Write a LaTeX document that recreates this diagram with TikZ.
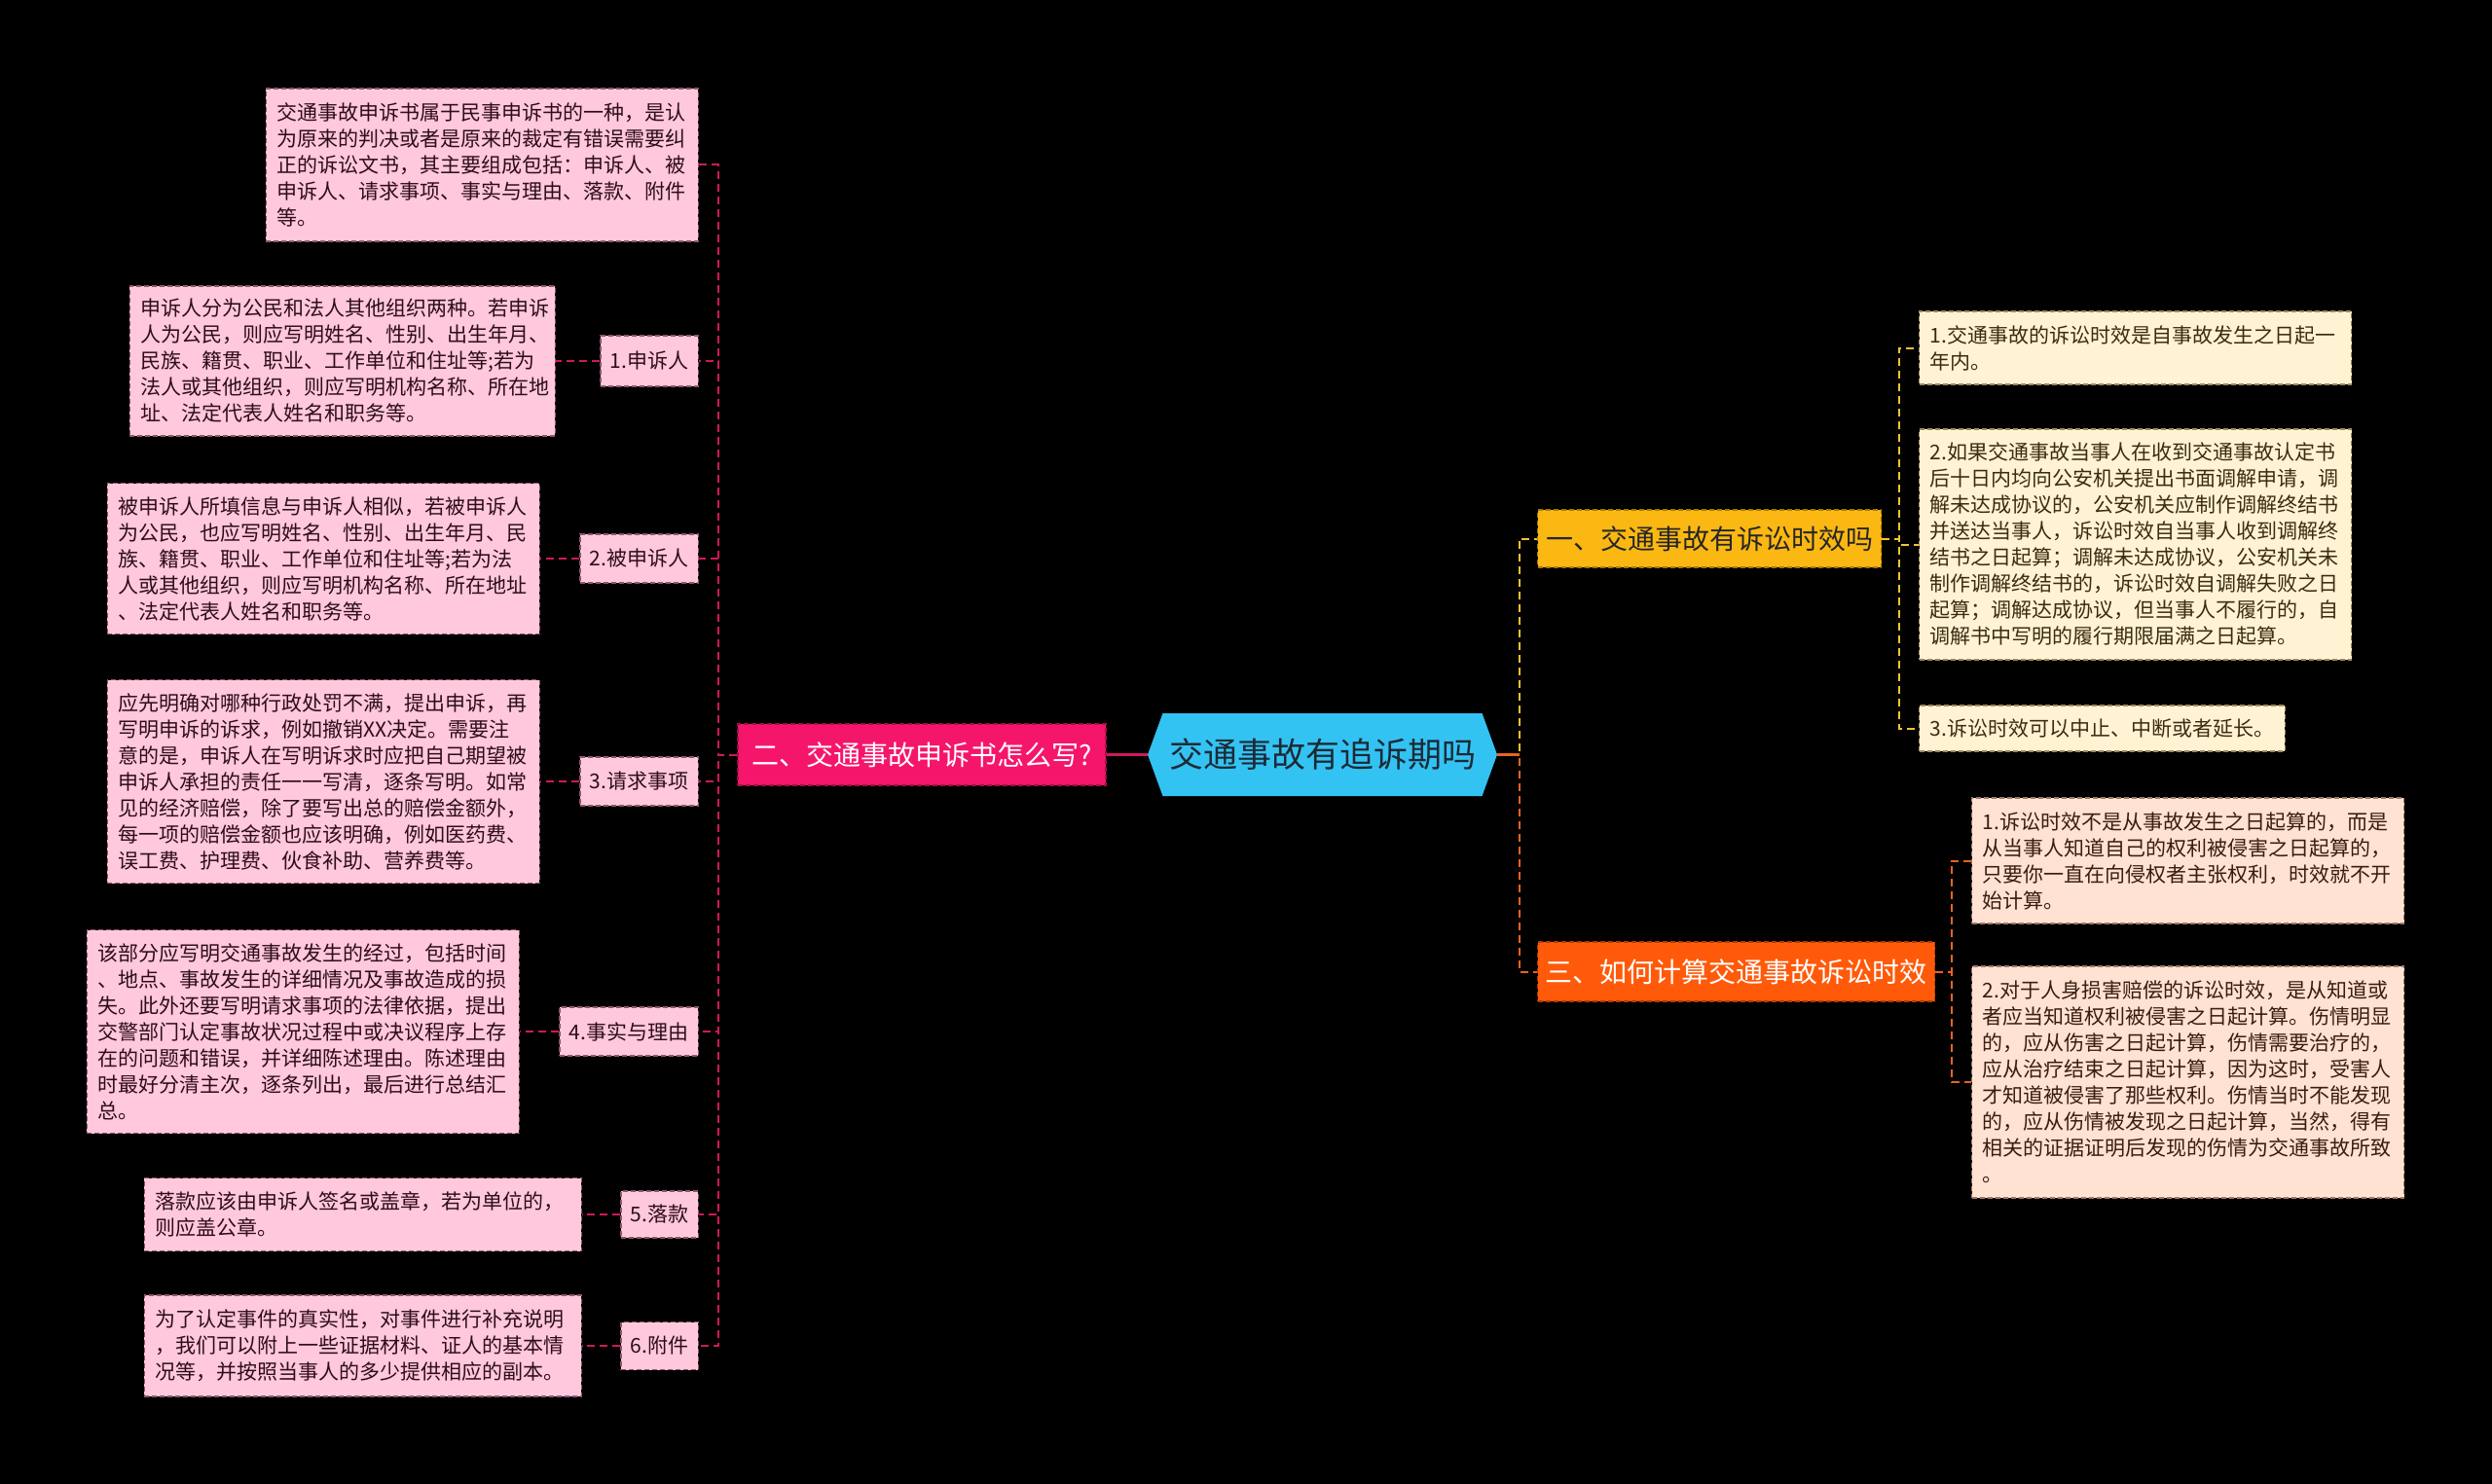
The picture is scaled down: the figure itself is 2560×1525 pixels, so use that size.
\documentclass[tikz,border=0pt]{standalone}
\usepackage{fontspec}
\setmainfont{Noto Sans CJK SC}
\usetikzlibrary{shapes.symbols}
\definecolor{pinkbox}{HTML}{FFC8DC}
\definecolor{pinkedge}{HTML}{8E5670}
\definecolor{pinktext}{HTML}{2E0C1C}
\definecolor{creambox}{HTML}{FFF3D4}
\definecolor{creamedge}{HTML}{A08A5A}
\definecolor{creamtext}{HTML}{3A2C10}
\definecolor{peachbox}{HTML}{FFE2D2}
\definecolor{peachedge}{HTML}{A07A66}
\definecolor{peachtext}{HTML}{3A1C10}
\definecolor{rootc}{HTML}{33C3F3}
\definecolor{roottext}{HTML}{1C2A36}
\definecolor{magc}{HTML}{F5166B}
\definecolor{magedge}{HTML}{A80E48}
\definecolor{ambc}{HTML}{FBB812}
\definecolor{ambedge}{HTML}{A87A08}
\definecolor{orc}{HTML}{FF5A0A}
\definecolor{oredge}{HTML}{B03C04}
\definecolor{lineL}{HTML}{D0185C}
\definecolor{lineY}{HTML}{F2C230}
\definecolor{lineO}{HTML}{E8641E}
\begin{document}
\begin{tikzpicture}[x=1pt,y=-1pt,
  boxbase/.style={dash pattern=on 5pt off 3pt, line width=1.4pt, inner xsep=11pt, inner ysep=0pt,
    font=\fontsize{21pt}{27pt}\selectfont},
  leafL/.style={boxbase, fill=pinkbox, draw=pinkedge, text=pinktext, align=left, anchor=east},
  labelL/.style={boxbase, fill=pinkbox, draw=pinkedge, text=pinktext, anchor=east, inner xsep=10pt, minimum height=#1},
  leafY/.style={boxbase, fill=creambox, draw=creamedge, text=creamtext, align=left, anchor=west},
  leafO/.style={boxbase, fill=peachbox, draw=peachedge, text=peachtext, align=left, anchor=west},
  branch/.style={dash pattern=on 5pt off 3pt, line width=1.4pt, inner sep=0pt,
    font=\fontsize{28pt}{34pt}\selectfont},
  conn/.style={line width=2pt, dash pattern=on 8pt off 5pt}]
\fill[black] (0,0) rectangle (2560,1525);
\useasboundingbox (0,0) rectangle (2560,1525);

% root
\node[signal, signal to=east and west, signal pointer angle=140, fill=rootc, text=roottext,
  minimum width=359pt, minimum height=85pt, inner sep=0pt,
  font=\fontsize{35pt}{40pt}\selectfont] (root) at (1358.5,775.5) {交通事故有追诉期吗};

% branches
\node[branch, fill=magc, draw=magedge, text=white, minimum width=378pt, minimum height=63pt] (b2) at (947,775.5) {二、交通事故申诉书怎么写?};
\node[branch, fill=ambc, draw=ambedge, text=black!85, minimum width=353pt, minimum height=59pt, anchor=west] (b1) at (1579,553.5) {一、交通事故有诉讼时效吗};
\node[branch, fill=orc, draw=oredge, text=white, minimum width=408pt, minimum height=61pt, anchor=west] (b3) at (1579,998.5) {三、如何计算交通事故诉讼时效};

% left leaves
\node[leafL, text width=422pt, minimum height=157pt] (intro) at (718,169.5) {交通事故申诉书属于民事申诉书的一种，是认\\为原来的判决或者是原来的裁定有错误需要纠\\正的诉讼文书，其主要组成包括：申诉人、被\\申诉人、请求事项、事实与理由、落款、附件\\等。};

\node[labelL=52pt] (l1) at (718,371) {1.申诉人};
\node[leafL, text width=415pt, minimum height=154pt] (d1) at (571,371) {申诉人分为公民和法人其他组织两种。若申诉\\人为公民，则应写明姓名、性别、出生年月、\\民族、籍贯、职业、工作单位和住址等;若为\\法人或其他组织，则应写明机构名称、所在地\\址、法定代表人姓名和职务等。};

\node[labelL=50pt] (l2) at (718,574) {2.被申诉人};
\node[leafL, text width=422pt, minimum height=155pt] (d2) at (555,574) {被申诉人所填信息与申诉人相似，若被申诉人\\为公民，也应写明姓名、性别、出生年月、民\\族、籍贯、职业、工作单位和住址等;若为法\\人或其他组织，则应写明机构名称、所在地址\\、法定代表人姓名和职务等。};

\node[labelL=50pt] (l3) at (718,803) {3.请求事项};
\node[leafL, text width=422pt, minimum height=209pt] (d3) at (555,803) {应先明确对哪种行政处罚不满，提出申诉，再\\写明申诉的诉求，例如撤销XX决定。需要注\\意的是，申诉人在写明诉求时应把自己期望被\\申诉人承担的责任一一写清，逐条写明。如常\\见的经济赔偿，除了要写出总的赔偿金额外，\\每一项的赔偿金额也应该明确，例如医药费、\\误工费、护理费、伙食补助、营养费等。};

\node[labelL=50pt] (l4) at (718,1060) {4.事实与理由};
\node[leafL, text width=422pt, minimum height=209pt] (d4) at (534,1060) {该部分应写明交通事故发生的经过，包括时间\\、地点、事故发生的详细情况及事故造成的损\\失。此外还要写明请求事项的法律依据，提出\\交警部门认定事故状况过程中或决议程序上存\\在的问题和错误，并详细陈述理由。陈述理由\\时最好分清主次，逐条列出，最后进行总结汇\\总。};

\node[labelL=48pt] (l5) at (718,1248) {5.落款};
\node[leafL, text width=427pt, minimum height=75pt] (d5) at (598,1248) {落款应该由申诉人签名或盖章，若为单位的，\\则应盖公章。};

\node[labelL=49pt] (l6) at (718,1383) {6.附件};
\node[leafL, text width=427pt, minimum height=104pt] (d6) at (598,1383) {为了认定事件的真实性，对事件进行补充说明\\，我们可以附上一些证据材料、证人的基本情\\况等，并按照当事人的多少提供相应的副本。};

% right leaves, branch 1
\node[leafY, text width=422pt, minimum height=75pt] (r1) at (1971,357.5) {1.交通事故的诉讼时效是自事故发生之日起一\\年内。};
\node[leafY, text width=422pt, minimum height=237pt] (r2) at (1971,559.5) {2.如果交通事故当事人在收到交通事故认定书\\后十日内均向公安机关提出书面调解申请，调\\解未达成协议的，公安机关应制作调解终结书\\并送达当事人，诉讼时效自当事人收到调解终\\结书之日起算；调解未达成协议，公安机关未\\制作调解终结书的，诉讼时效自调解失败之日\\起算；调解达成协议，但当事人不履行的，自\\调解书中写明的履行期限届满之日起算。};
\node[leafY, minimum height=47pt] (r3) at (1971,748.5) {3.诉讼时效可以中止、中断或者延长。};

% right leaves, branch 3
\node[leafO, text width=422pt, minimum height=129pt] (s1) at (2025,884.5) {1.诉讼时效不是从事故发生之日起算的，而是\\从当事人知道自己的权利被侵害之日起算的，\\只要你一直在向侵权者主张权利，时效就不开\\始计算。};
\node[leafO, text width=422pt, minimum height=238pt] (s2) at (2025,1112) {2.对于人身损害赔偿的诉讼时效，是从知道或\\者应当知道权利被侵害之日起计算。伤情明显\\的，应从伤害之日起计算，伤情需要治疗的，\\应从治疗结束之日起计算，因为这时，受害人\\才知道被侵害了那些权利。伤情当时不能发现\\的，应从伤情被发现之日起计算，当然，得有\\相关的证据证明后发现的伤情为交通事故所致\\。};

% connectors
\draw[lineL, line width=3pt] (root.west) -- (b2.east);
\foreach \c in {intro,l1,l2,l3,l4,l5,l6}
  \draw[lineL, conn] (b2.west) -- (738,775.5) |- (\c.east);
\draw[lineL, conn] (l1.west) -- (d1.east);
\draw[lineL, conn] (l2.west) -- (d2.east);
\draw[lineL, conn] (l3.west) -- (d3.east);
\draw[lineL, conn] (l4.west) -- (d4.east);
\draw[lineL, conn] (l5.west) -- (d5.east);
\draw[lineL, conn] (l6.west) -- (d6.east);

\draw[lineY, conn] (root.east) -- (1561,775.5) |- (b1.west);
\draw[lineO, conn] (root.east) -- (1561,775.5) |- (b3.west);
\draw[lineO, line width=3pt] (root.east) -- (1561,775.5);

\foreach \c in {r1,r2,r3}
  \draw[lineY, conn] (b1.east) -- (1951,553.5) |- (\c.west);
\foreach \c in {s1,s2}
  \draw[lineO, conn] (b3.east) -- (2005,998.5) |- (\c.west);
\end{tikzpicture}
\end{document}
